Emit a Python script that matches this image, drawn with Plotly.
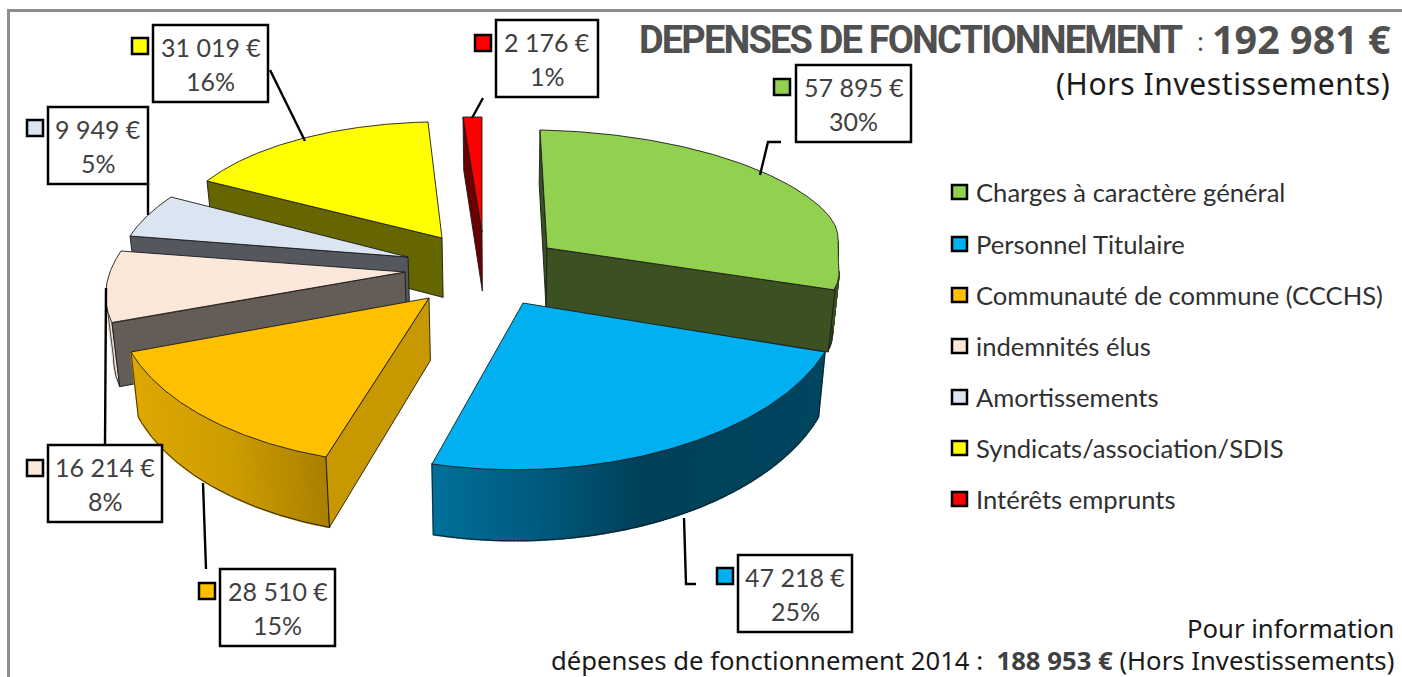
import math
import plotly.graph_objects as go

# ---------- data ----------
categories = ["Charges à caractère général", "Personnel Titulaire", "Communauté de commune (CCCHS)",
              "indemnités élus", "Amortissements", "Syndicats/association/SDIS", "Intérêts emprunts"]
values = [57895, 47218, 28510, 16214, 9949, 31019, 2176]
value_labels = ["57 895 €", "47 218 €", "28 510 €", "16 214 €", "9 949 €", "31 019 €", "2 176 €"]
pct_labels = ["30%", "25%", "15%", "8%", "5%", "16%", "1%"]
title_total = "192 981 €"
prev_total = "188 953 €"

# ---------- styles / geometry (screen space of the exploded 3D pie) ----------
W, H = 1402, 677
top_colors = ["#92D050", "#00B0F0", "#FFC000", "#FBE8DA", "#DBE5F1", "#FFFF00", "#FF0000"]
face_colors = ["#3C5122", "#006F99", "#C89800", "#645C56", "#54585E", "#666600", "#6B0000"]
# rim gradient stops (x, rgb) per slice
rim_stops = [
    [(0, (60, 81, 34)), (1402, (60, 81, 34))],
    [(432, (0, 112, 154)), (540, (0, 90, 125)), (640, (0, 65, 90)), (830, (0, 70, 97))],
    [(131, (222, 168, 0)), (230, (205, 156, 0)), (328, (168, 127, 0))],
    [(0, (235, 222, 212)), (1402, (235, 222, 212))],
    [(0, (84, 88, 94)), (1402, (84, 88, 94))],
    [(0, (102, 102, 0)), (1402, (102, 102, 0))],
    [(0, (107, 0, 0)), (1402, (107, 0, 0))],
]
# apex, rim point at the start angle, rim point at the end angle
anchors = [
    ((547, 248), (540, 130), (835, 290)),
    ((523, 303), (825, 352), (432, 464)),
    ((429, 298), (326, 457), (131, 352)),
    ((405, 272), (112, 323), (121, 251)),
    ((408, 257), (130, 236), (171, 197)),
    ((442, 238), (207, 181), (428, 122)),
    ((482, 232), (463, 117), (482, 117)),
]
# perspective flattening of the rim: strength, centre and width along the slice
rim_trim = [(0.032, 0.84, 0.11), None, None, None, None, None, None]
draw_order = [5, 6, 0, 4, 3, 2, 1]
boxes = [(796, 65, 911, 142), (738, 555, 852, 632), (220, 569, 335, 646), (48, 445, 162, 522),
         (48, 107, 148, 184), (153, 25, 268, 102), (496, 20, 598, 97)]
keys = [(774, 79), (717, 568), (199, 583), (27, 460), (27, 120), (132, 38), (475, 35)]
leaders = [
    [(781, 142), (768, 142), (760, 175)],
    [(684, 518), (686, 584), (696, 584)],
    [(203, 483), (206, 569)],
    [(106, 288), (105, 445)],
    [(148, 184), (148, 215)],
    [(270, 70), (305, 141)],
    [(483, 98), (472, 118)],
]
legend_y = [192, 244, 295, 346, 397, 448, 499]


def depth(y):
    return 60 + 0.05 * (y - 250)


def drop(p):
    x, y = p
    return (x + (500 - x) * 0.02, y + depth(y))


def grad(stops, x):
    if x <= stops[0][0]:
        return stops[0][1]
    for (x0, c0), (x1, c1) in zip(stops, stops[1:]):
        if x <= x1:
            f = (x - x0) / (x1 - x0)
            return tuple(c0[i] + (c1[i] - c0[i]) * f for i in range(3))
    return stops[-1][1]


def poly(points, fill, line=None, width=0.8):
    xs = [p[0] for p in points] + [points[0][0]]
    ys = [p[1] for p in points] + [points[0][1]]
    return go.Scatter(x=xs, y=ys, mode="lines", fill="toself", fillcolor=fill,
                      line=dict(color=line or fill, width=width), hoverinfo="skip", showlegend=False)


def path(points, color="#000000", width=2):
    return go.Scatter(x=[p[0] for p in points], y=[p[1] for p in points], mode="lines",
                      line=dict(color=color, width=width), hoverinfo="skip", showlegend=False)


total = sum(values)
angles = [0]
for v in values:
    angles.append(angles[-1] + v / total * 2 * math.pi)


def slice_traces(i):
    t0, t1 = angles[i], angles[i + 1]
    apex, c0, c1 = anchors[i]
    u0 = (math.sin(t0), -math.cos(t0))
    u1 = (math.sin(t1), -math.cos(t1))
    d0 = (c0[0] - apex[0], c0[1] - apex[1])
    d1 = (c1[0] - apex[0], c1[1] - apex[1])
    det = u0[0] * u1[1] - u0[1] * u1[0]
    # affine map of the unit circle onto the tilted, perspective ellipse of this slice
    a = tuple((d0[k] * u1[1] - d1[k] * u0[1]) / det for k in range(2))
    b = tuple((u0[0] * d1[k] - u1[0] * d0[k]) / det for k in range(2))

    def rim(t):
        s, c = math.sin(t), -math.cos(t)
        f = 1.0
        if rim_trim[i]:
            g, uc, w = rim_trim[i]
            f = 1 - g * math.exp(-(((t - t0) / (t1 - t0) - uc) / w) ** 2)
        return (apex[0] + f * (a[0] * s + b[0] * c), apex[1] + f * (a[1] * s + b[1] * c))

    n = 140
    ts = [t0 + (t1 - t0) * k / n for k in range(n + 1)]
    pts = [rim(t) for t in ts]
    mid = rim((t0 + t1) / 2)
    m = (mid[0] - apex[0], mid[1] - apex[1])
    out = []

    def radial_visible(d):
        cm = d[0] * m[1] - d[1] * m[0]
        cd = d[0]
        return cm * cd < 0

    edge = "#1a1a1a"
    # rim side
    rim_visible = []
    for p, q in zip(pts, pts[1:]):
        if q[0] < p[0]:
            xm = (p[0] + q[0]) / 2
            col = "rgb(%d,%d,%d)" % tuple(round(v) for v in grad(rim_stops[i], xm))
            out.append(poly([p, q, drop(q), drop(p)], col, col, 1.6))
            rim_visible.append((p, q))
    if rim_visible:
        chain = [drop(rim_visible[0][0])] + [drop(q) for _, q in rim_visible]
        out.append(path(chain, edge, 0.9))
        out.append(path([rim_visible[0][0], drop(rim_visible[0][0])], edge, 0.8))
        out.append(path([rim_visible[-1][1], drop(rim_visible[-1][1])], edge, 0.8))
    # radial faces
    for c, d in ((c0, d0), (c1, d1)):
        if radial_visible(d):
            out.append(poly([apex, c, drop(c), drop(apex)], face_colors[i], edge, 0.9))
    # top face
    out.append(poly([apex] + pts, top_colors[i], edge, 0.9))
    return out


traces = []
for i in draw_order:
    traces.extend(slice_traces(i))
for pts in leaders:
    traces.append(path(pts, "#000000", 2.4))
# page frame
traces.append(path([(8.5, H), (8.5, 10.5), (W, 10.5)], "#8C8C8C", 3))

fig = go.Figure(traces)

shapes = []
for (x0, y0, x1, y1) in boxes:
    shapes.append(dict(type="rect", x0=x0, y0=y0, x1=x1, y1=y1, xref="x", yref="y",
                       fillcolor="#FFFFFF", line=dict(color="#000000", width=2.5), layer="above"))
for i, (kx, ky) in enumerate(keys):
    shapes.append(dict(type="rect", x0=kx, y0=ky, x1=kx + 16, y1=ky + 16, xref="x", yref="y",
                       fillcolor=top_colors[i], line=dict(color="#000000", width=2.5), layer="above"))
for i, ly in enumerate(legend_y):
    shapes.append(dict(type="rect", x0=952, y0=ly - 7, x1=967, y1=ly + 7, xref="x", yref="y",
                       fillcolor=top_colors[i], line=dict(color="#000000", width=2.5), layer="above"))

ann = []


def text(x, y, s, size, color="#262626", anchor="center", family="Lato"):
    ann.append(dict(x=x, y=y, xref="x", yref="y", text=s, showarrow=False, xanchor=anchor, yanchor="middle",
                    font=dict(family=family, size=size, color=color), align=anchor))


for i, (x0, y0, x1, y1) in enumerate(boxes):
    cx = (x0 + x1) / 2
    text(cx, y0 + 22, value_labels[i], 25, "#404040")
    text(cx, y0 + 56, pct_labels[i], 25, "#404040")
for i, ly in enumerate(legend_y):
    text(974, ly, categories[i], 25.6, "#303030", "left")

fira = "Noto Sans"
text(1185, 40, "<b style='letter-spacing:-1.85px'>DEPENSES DE FONCTIONNEMENT</b>", 38, "#505050", "right", "Roboto")
text(1200, 41, ":", 26, "#505050", "center", fira)
text(1393, 39, "<b>%s</b>" % title_total, 39.5, "#505050", "right", fira)
text(1392, 83, "<span style='letter-spacing:0.6px'>(Hors Investissements)</span>", 30, "#1a1a1a", "right", fira)
text(1396, 628, "Pour information", 25.7, "#1a1a1a", "right", fira)
text(1396, 660, "dépenses de fonctionnement 2014 :  <b style='color:#404040'>%s</b> (Hors Investissements)" % prev_total,
     25.7, "#1a1a1a", "right", fira)

fig.update_layout(
    width=W, height=H, margin=dict(l=0, r=0, t=0, b=0), paper_bgcolor="#FFFFFF", plot_bgcolor="#FFFFFF",
    showlegend=False, shapes=shapes, annotations=ann,
    xaxis=dict(range=[0, W], visible=False, fixedrange=True),
    yaxis=dict(range=[H, 0], visible=False, fixedrange=True),
)
fig.write_html("out.html", post_script="document.body.style.margin='0';", config=dict(displayModeBar=False))
